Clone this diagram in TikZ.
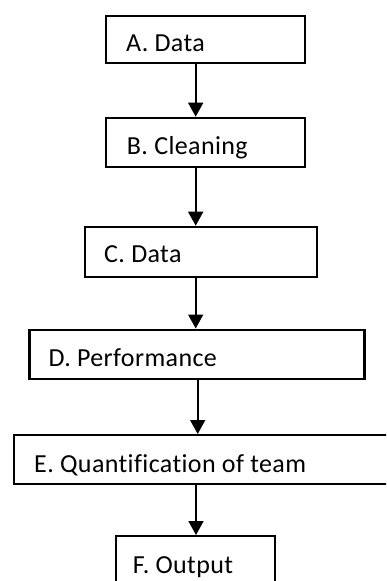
\documentclass[tikz,border=0pt]{standalone}
\usepackage{fontspec}
\setmainfont{Carlito}
\newfontfamily\stagefont[LetterSpace=1.5,Ligatures=NoCommon]{Carlito}
\usetikzlibrary{arrows.meta}
\tikzset{
  stage/.style={draw=black, line width=2.2pt, fill=none, inner sep=0pt, anchor=north west},
  caption/.style={anchor=base west, inner sep=0pt, font=\stagefont\fontsize{26}{30}\selectfont},
  flow/.style={line width=1.7pt, -{Triangle[length=14pt,width=15pt]}}
}
\begin{document}
\begin{tikzpicture}[x=1pt,y=-1pt]
  \useasboundingbox (0,0) rectangle (386,581);
  \clip (0,0) rectangle (386,581);
  % stage boxes, placed by their top-left corners
  \node[stage, minimum width=199pt, minimum height=47.3pt] (a) at (105,14.7) {};
  \node[stage, minimum width=199pt, minimum height=49pt] (b) at (105,116.7) {};
  \node[stage, minimum width=232pt, minimum height=50pt] (c) at (84,225.7) {};
  \node[stage, minimum width=335pt, minimum height=49pt] (d) at (28.3,328.5) {};
  \node[stage, minimum width=400pt, minimum height=49pt] (e) at (12.7,434) {};
  \node[stage, minimum width=159pt, minimum height=70pt] (f) at (115,535) {};
  % stage captions
  \node[caption] (at) at (126,51.7) {A. Data};
  \node[caption] (bt) at (126.7,154) {B. Cleaning};
  \node[caption] (ct) at (104,262.7) {C. Data};
  \node[caption] (dt) at (48.3,366) {D. Performance};
  \node[caption] (et) at (34,472.3) {E. Quantification of team};
  \node[caption] (ft) at (132.7,573.3) {F. Output};
  % vertical spine for the connectors
  \coordinate (s1) at (195.7,0);
  \coordinate (s2) at (197.7,0);
  \coordinate (s3) at (196,0);
  \draw[flow] (s1 |- a.south) -- (s1 |- b.north);
  \draw[flow] (s1 |- b.south) -- (s1 |- c.north);
  \draw[flow] (s1 |- c.south) -- (s1 |- d.north);
  \draw[flow] (s2 |- d.south) -- (s2 |- e.north);
  \draw[flow] (s3 |- e.south) -- (s3 |- f.north);
\end{tikzpicture}
\end{document}
